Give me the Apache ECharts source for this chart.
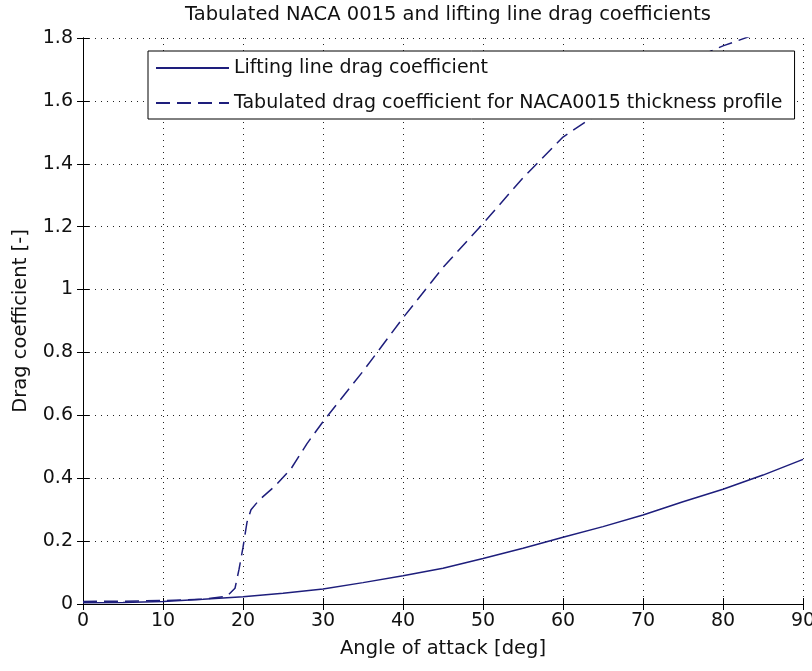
<!DOCTYPE html>
<html>
<head>
<meta charset="utf-8">
<script src="https://cdn.jsdelivr.net/npm/echarts@6/dist/echarts.min.js"></script>
<style>
  html, body { margin: 0; padding: 0; background: #fff; }
  #chart { width: 812px; height: 671px; }
</style>
</head>
<body>
<div id="chart"></div>
<script>
// lifting line drag coefficient
const liftAngle = [0, 5, 10, 15, 20, 25, 30, 35, 40, 45, 50, 55, 60, 65, 70, 75, 80, 85, 90];
const liftCd = [0.004, 0.005, 0.008, 0.015, 0.023, 0.034, 0.048, 0.068, 0.09, 0.114, 0.145, 0.177, 0.212, 0.246, 0.283, 0.325, 0.365, 0.41, 0.46];

// tabulated NACA0015 drag coefficient
const tabAngle = [0, 5, 10, 15, 18, 19, 19.5, 20, 20.5, 21, 22, 24, 26, 28, 30, 35, 40, 45, 50, 55, 60, 65, 70, 75, 80, 85, 90];
const tabCd = [0.008, 0.009, 0.011, 0.015, 0.025, 0.05, 0.11, 0.18, 0.26, 0.3, 0.33, 0.375, 0.43, 0.51, 0.58, 0.74, 0.91, 1.07, 1.21, 1.355, 1.485, 1.57, 1.655, 1.72, 1.775, 1.82, 1.85];

const xTicks = { min: 0, max: 90, interval: 10 };
const yTicks = { min: 0, max: 1.8, interval: 0.2 };

const FONT = 'DejaVu Sans';
const lineColor = '#1e1e7c';

const chart = echarts.init(document.getElementById('chart'));

const axisLine = { show: true, lineStyle: { color: '#000', width: 1 } };
const tick = { show: true, inside: true, length: 6, lineStyle: { color: '#000' } };
const dotted = { show: true, lineStyle: { color: '#222', width: 1, type: [1, 5] } };

chart.setOption({
  animation: false,
  title: {
    text: 'Tabulated NACA 0015 and lifting line drag coefficients',
    left: 443,
    textAlign: 'center',
    top: 0,
    textStyle: { fontFamily: FONT, fontSize: 19.5, fontWeight: 'normal', color: '#111' }
  },
  grid: { left: 83, right: 9, top: 38, bottom: 67, outerBoundsMode: 'none', containLabel: false },
  legend: {
    orient: 'vertical',
    left: 148,
    top: 51,
    padding: [5, 12, 4, 7],
    itemGap: 11,
    itemWidth: 73,
    itemHeight: 14,
    backgroundColor: '#fff',
    borderColor: '#000',
    borderWidth: 1,
    itemStyle: { opacity: 0 },
    textStyle: { fontFamily: FONT, fontSize: 19, color: '#111', lineHeight: 24 },
    data: ['Lifting line drag coefficient', 'Tabulated drag coefficient for NACA0015 thickness profile']
  },
  xAxis: [
    {
      type: 'value', position: 'bottom', ...xTicks,
      name: 'Angle of attack [deg]', nameLocation: 'middle', nameGap: 35,
      nameTextStyle: { fontFamily: FONT, fontSize: 19.5, color: '#111' },
      axisLine, axisTick: tick, splitLine: dotted,
      axisLabel: { fontFamily: FONT, fontSize: 19, color: '#111', margin: 8 }
    },
    {
      type: 'value', position: 'top', ...xTicks,
      axisLine, axisTick: tick, splitLine: { show: false }, axisLabel: { show: false }
    }
  ],
  yAxis: [
    {
      type: 'value', position: 'left', ...yTicks,
      name: 'Drag coefficient [-]', nameLocation: 'middle', nameGap: 52,
      nameTextStyle: { fontFamily: FONT, fontSize: 19.5, color: '#111' },
      axisLine, axisTick: tick, splitLine: dotted,
      axisLabel: { fontFamily: FONT, fontSize: 19, color: '#111', margin: 10 }
    },
    {
      type: 'value', position: 'right', ...yTicks,
      axisLine, axisTick: tick, splitLine: { show: false }, axisLabel: { show: false }
    }
  ],
  series: [
    {
      name: 'Lifting line drag coefficient',
      type: 'line',
      data: liftAngle.map((a, i) => [a, liftCd[i]]),
      showSymbol: false,
      symbol: 'none',
      clip: true,
      lineStyle: { color: lineColor, width: 1.5, type: 'solid' },
      itemStyle: { color: lineColor }
    },
    {
      name: 'Tabulated drag coefficient for NACA0015 thickness profile',
      type: 'line',
      data: tabAngle.map((a, i) => [a, tabCd[i]]),
      showSymbol: false,
      symbol: 'none',
      clip: true,
      lineStyle: { color: lineColor, width: 1.5, type: [14, 7] },
      itemStyle: { color: lineColor }
    }
  ]
});
</script>
</body>
</html>
